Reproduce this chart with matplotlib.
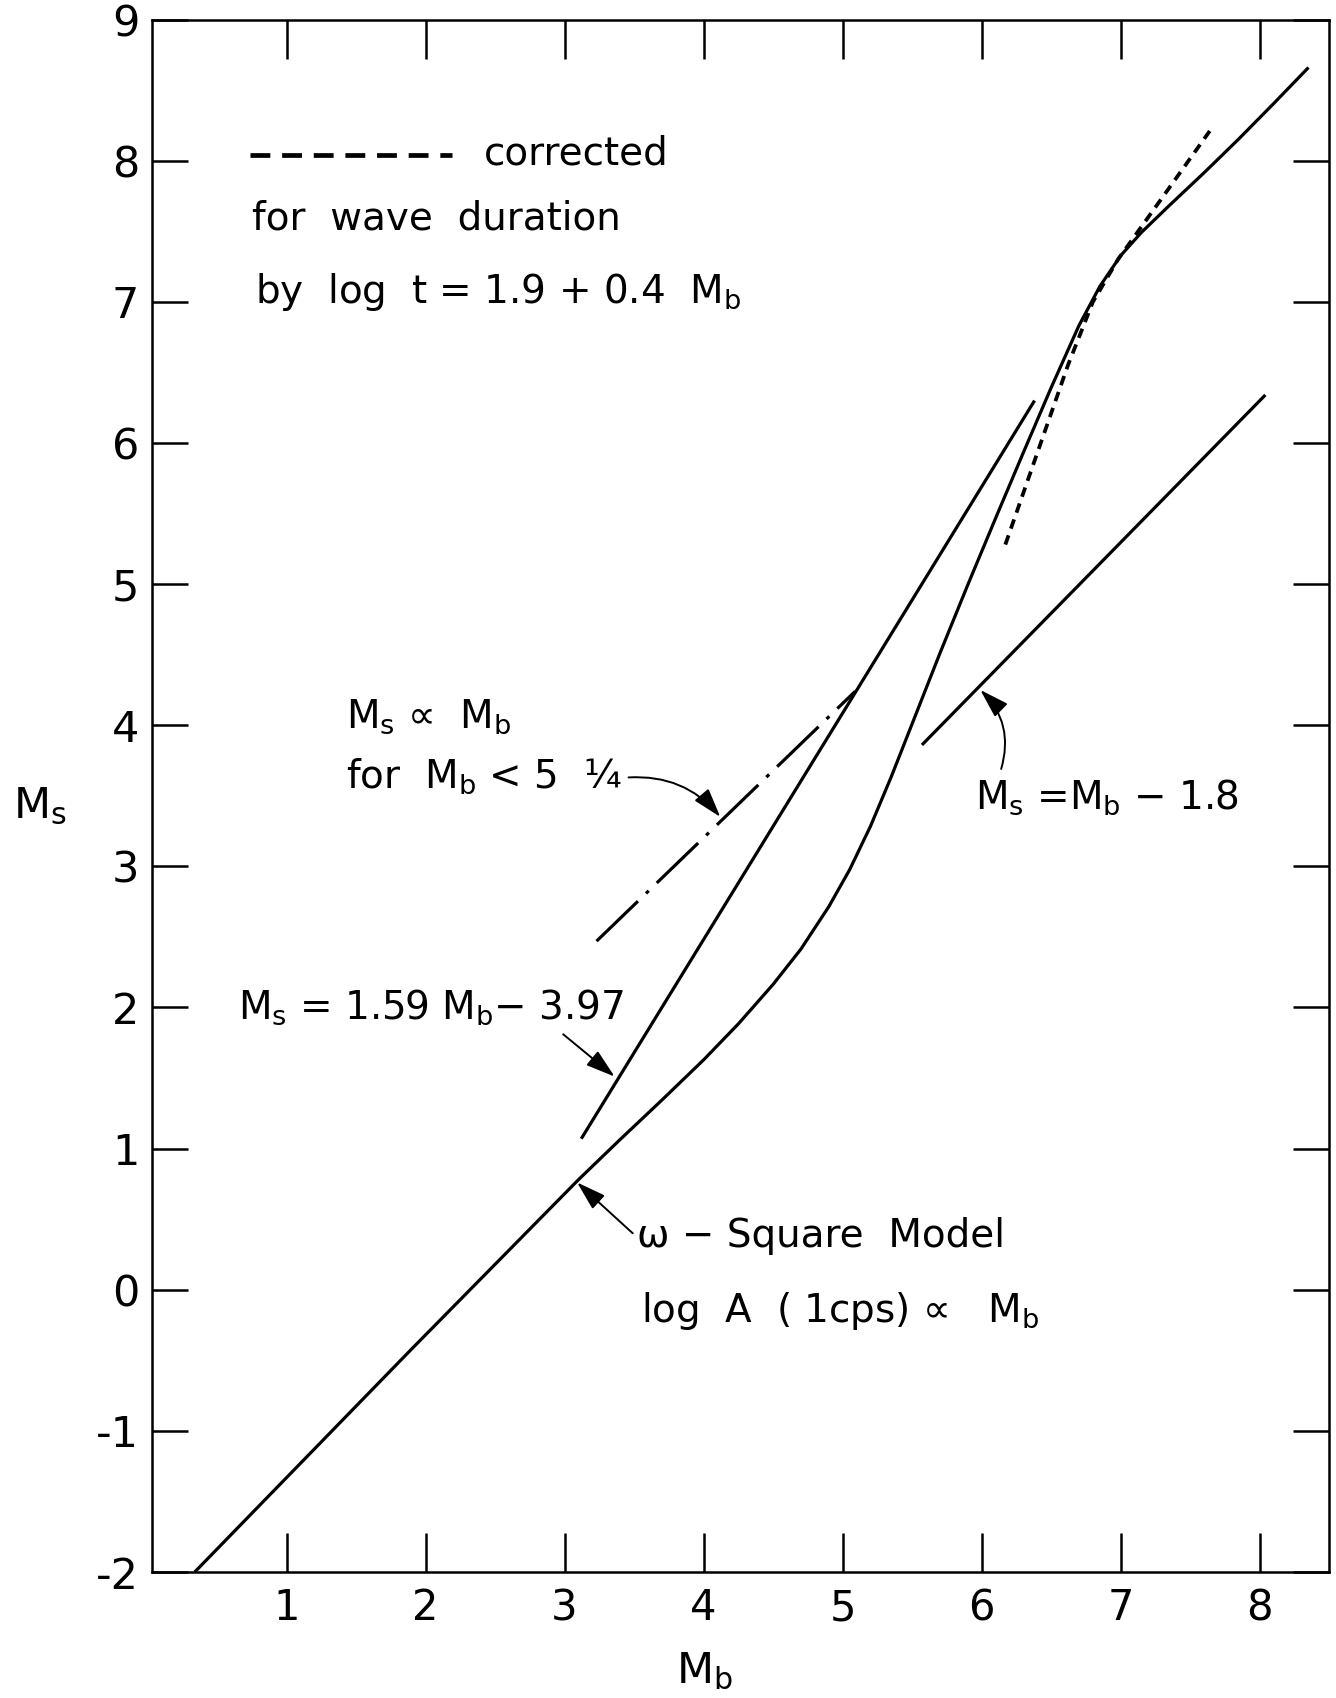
import matplotlib
matplotlib.use('Agg')
import matplotlib.pyplot as plt

plt.rcParams['font.family'] = ['DejaVu Sans']
plt.rcParams['mathtext.default'] = 'regular'

# ---------------- data ----------------
# omega-square model curve
s_mb = [0.34, 1.9, 3.1, 3.4, 3.7, 4.0, 4.25, 4.5, 4.7, 4.9, 5.05, 5.2, 5.35,
        5.5, 5.7, 5.9, 6.1, 6.3, 6.5, 6.7, 6.85, 7.0, 7.15, 7.35, 7.6, 7.85,
        8.1, 8.35]
s_ms = [-2.0, -0.42, 0.78, 1.065, 1.344, 1.629, 1.884, 2.164, 2.414, 2.714,
        2.976, 3.284, 3.636, 4.011, 4.511, 4.995, 5.467, 5.933, 6.393, 6.833,
        7.11, 7.328, 7.493, 7.683, 7.915, 8.155, 8.405, 8.66]
# corrected for wave duration (dashed)
corr_mb = [6.17, 6.4, 6.62, 6.8, 6.98, 7.3, 7.64]
corr_ms = [5.28, 5.93, 6.55, 7.0, 7.3, 7.74, 8.21]
# Ms = 1.59 Mb - 3.97
l159_mb = [3.12, 6.38]
l159_ms = [1.07, 6.30]
# Ms = Mb - 1.8
l18_mb = [5.57, 8.04]
l18_ms = [3.86, 6.34]
# Ms proportional to Mb (dash-dot)
prop_mb = [3.23, 5.09]
prop_ms = [2.47, 4.24]

x_ticks = [1, 2, 3, 4, 5, 6, 7, 8]
x_tick_labels = ['1', '2', '3', '4', '5', '6', '7', '8']
y_ticks = [-2, -1, 0, 1, 2, 3, 4, 5, 6, 7, 8, 9]
y_tick_labels = ['-2', '-1', '0', '1', '2', '3', '4', '5', '6', '7', '8', '9']

# ---------------- figure ----------------
fig = plt.figure(figsize=(13.36, 16.98), dpi=100)
ax = fig.add_axes([0.1135, 0.0742, 0.995 - 0.1135, 0.9885 - 0.0742])
ax.set_xlim(0.03, 8.5)
ax.set_ylim(-2, 9)

LW = 2.3
ax.plot(s_mb, s_ms, color='black', lw=LW, solid_capstyle='butt',
        solid_joinstyle='round')
ax.plot(corr_mb, corr_ms, color='black', lw=2.7, dashes=(2.6, 1.9))
ax.plot(l159_mb, l159_ms, color='black', lw=LW, solid_capstyle='butt')
ax.plot(l18_mb, l18_ms, color='black', lw=LW, solid_capstyle='butt')
ax.plot(prop_mb, prop_ms, color='black', lw=LW, dashes=(18, 3.5, 1.2, 3.5))

# ticks and frame
ax.set_xticks(x_ticks)
ax.set_xticklabels(x_tick_labels)
ax.set_yticks(y_ticks)
ax.set_yticklabels(y_tick_labels)
ax.tick_params(axis='x', direction='in', length=28, width=1.8, top=True,
               labelsize=30, pad=11)
ax.tick_params(axis='y', direction='in', length=26, width=1.8, right=True,
               labelsize=31, pad=9)
for sp in ax.spines.values():
    sp.set_linewidth(1.8)

# axis labels
fig.text(0.030, 0.525, 'M$_s$', fontsize=31, ha='center', va='center')
fig.text(0.527, 0.016, 'M$_b$', fontsize=31, ha='center', va='center')

FS = 28
# legend-like note
ax.plot([0.74, 2.19], [8.04, 8.04], color='black', lw=3.4, dashes=(4.2, 2.5))
ax.text(2.42, 8.05, 'corrected', fontsize=FS, ha='left', va='center')
ax.text(0.75, 7.59, 'for  wave  duration', fontsize=FS, ha='left', va='center')
ax.text(0.77, 7.07, 'by  log  t = 1.9 + 0.4  M$_b$', fontsize=FS,
        ha='left', va='center')

ax.text(1.43, 4.06, 'M$_s$ \u221d  M$_b$', fontsize=FS, ha='left', va='center')
ax.text(1.43, 3.64, 'for  M$_b$ < 5  \u00bc', fontsize=FS, ha='left', va='center')

ax.text(0.65, 2.0, 'M$_s$ = 1.59 M$_b$\u2212 3.97', fontsize=FS,
        ha='left', va='center')

ax.text(3.52, 0.38, '\u03c9 \u2212 Square  Model', fontsize=FS,
        ha='left', va='center')
ax.text(3.55, -0.15, 'log  A  ( 1cps) \u221d   M$_b$', fontsize=FS,
        ha='left', va='center')

ax.text(5.95, 3.49, 'M$_s$ =M$_b$ \u2212 1.8', fontsize=FS,
        ha='left', va='center')

# arrows
def arrow(start, end, rad):
    ax.annotate('', xy=end, xytext=start,
                arrowprops=dict(arrowstyle='-|>,head_length=0.9,head_width=0.28',
                                lw=1.4, color='black', shrinkA=0, shrinkB=0,
                                mutation_scale=20,
                                connectionstyle='arc3,rad=%g' % rad))

arrow((3.46, 3.63), (4.12, 3.35), -0.25)
arrow((2.99, 1.81), (3.36, 1.51), 0.0)
arrow((3.49, 0.40), (3.09, 0.76), 0.0)
arrow((6.14, 3.69), (5.99, 4.25), 0.3)

fig.savefig('out.png', dpi=100)
